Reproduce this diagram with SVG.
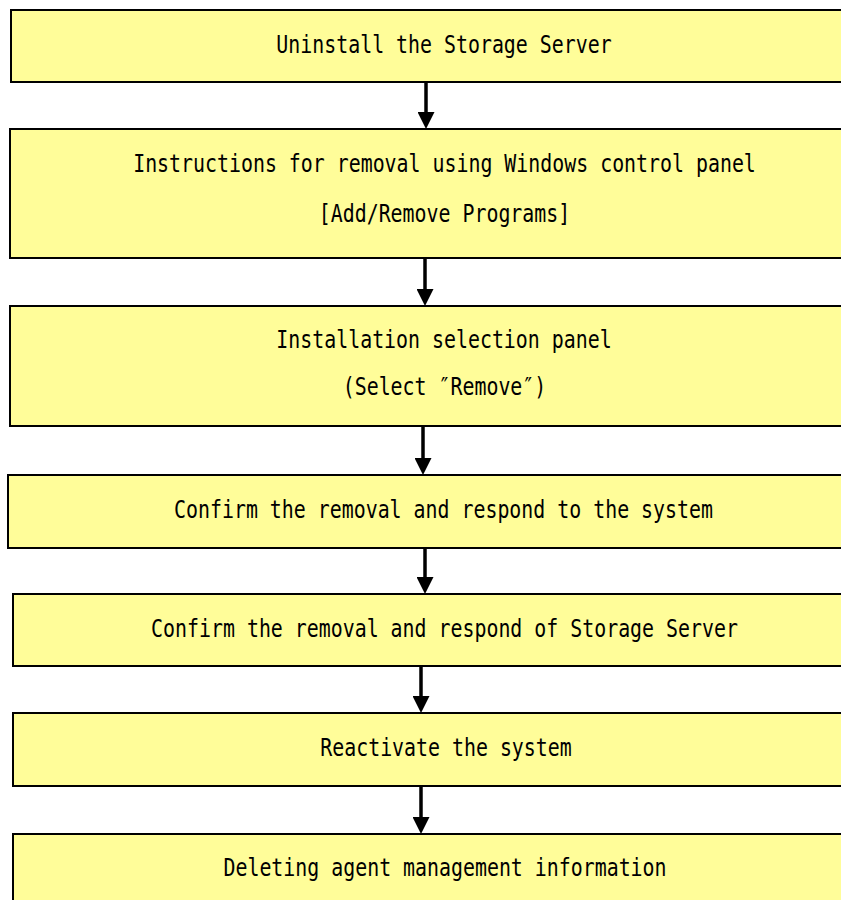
<svg xmlns="http://www.w3.org/2000/svg" width="841" height="900" viewBox="0 0 841 900">
<defs>
<style>
.box{fill:#FFFD99;stroke:#000;stroke-width:2}
.t{font-family:"DejaVu Sans Mono","Liberation Mono",monospace;font-size:19.9px;fill:#000;text-anchor:middle}
.arr{stroke:#000;stroke-width:3.5;fill:none;marker-end:url(#ah)}
</style>
<marker id="ah" markerUnits="userSpaceOnUse" markerWidth="17" markerHeight="17" refX="9" refY="8.5" orient="auto">
<path d="M0,0 L17,8.5 L0,17 Z" fill="#000"/>
</marker>
</defs>
<rect width="841" height="900" fill="#fff"/>
<g id="n1"><rect class="box" x="11" y="10" width="850" height="72"/>
<text class="t" transform="translate(444,53) scale(1,1.2)">Uninstall the Storage Server</text></g>
<g id="n2"><rect class="box" x="10" y="129" width="850" height="129"/>
<text class="t" transform="translate(444.5,172) scale(1,1.2)">Instructions for removal using Windows control panel</text>
<text class="t" transform="translate(444.5,222) scale(1,1.2)">[Add/Remove Programs]</text></g>
<g id="n3"><rect class="box" x="10" y="306" width="850" height="120"/>
<text class="t" transform="translate(444,348) scale(1,1.2)">Installation selection panel</text>
<text class="t" transform="translate(444.5,395) scale(1,1.2)">(Select ″Remove″)</text></g>
<g id="n4"><rect class="box" x="8" y="475" width="850" height="73"/>
<text class="t" transform="translate(443.5,518) scale(1,1.2)">Confirm the removal and respond to the system</text></g>
<g id="n5"><rect class="box" x="13" y="594" width="850" height="72"/>
<text class="t" transform="translate(444.5,637) scale(1,1.2)">Confirm the removal and respond of Storage Server</text></g>
<g id="n6"><rect class="box" x="13" y="713" width="850" height="73"/>
<text class="t" transform="translate(446,756) scale(1,1.2)">Reactivate the system</text></g>
<g id="n7"><rect class="box" x="13" y="834" width="850" height="80"/>
<text class="t" transform="translate(445,876) scale(1,1.2)">Deleting agent management information</text></g>
<g id="connectors">
<line class="arr" x1="426" y1="83" x2="426" y2="121"/>
<line class="arr" x1="425" y1="259" x2="425" y2="298"/>
<line class="arr" x1="423" y1="427" x2="423" y2="467"/>
<line class="arr" x1="425" y1="549" x2="425" y2="586"/>
<line class="arr" x1="421" y1="667" x2="421" y2="705"/>
<line class="arr" x1="421" y1="787" x2="421" y2="826"/>
</g>
</svg>
